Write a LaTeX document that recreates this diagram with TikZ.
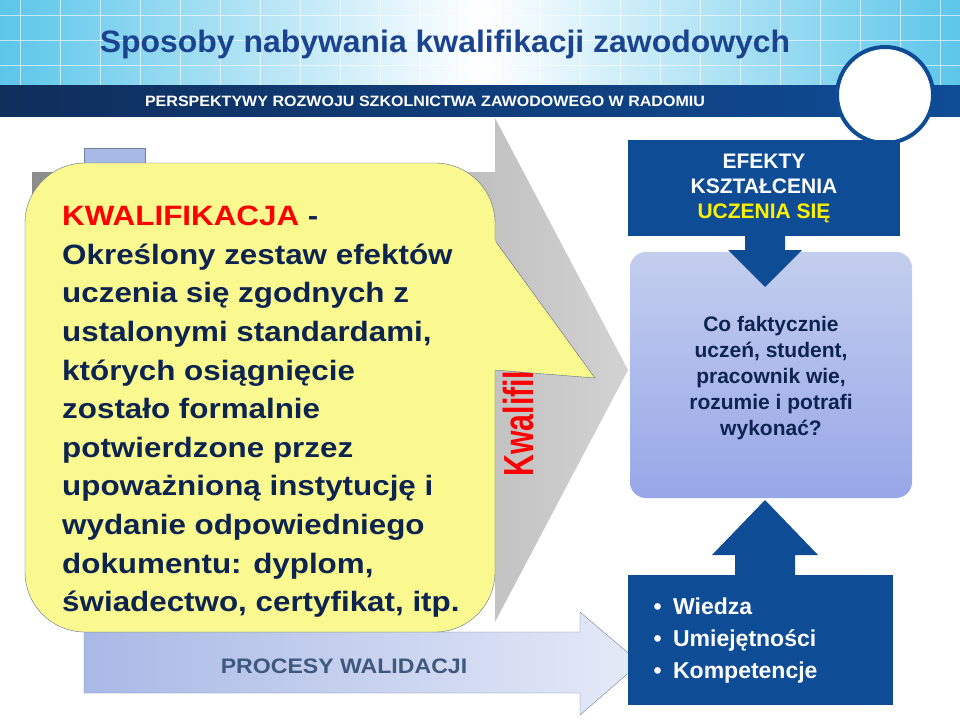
\documentclass[tikz,border=0pt]{standalone}
\usepackage{fontspec}
\setmainfont{Liberation Sans}
\usetikzlibrary{shapes.geometric}
\definecolor{navy}{HTML}{0F2E5C}
\definecolor{dblue}{HTML}{0F4C96}
\definecolor{ttl}{HTML}{1A4490}
\definecolor{sky}{HTML}{5CC6EA}
\definecolor{lblue}{HTML}{A9B9E6}
\definecolor{ylw}{HTML}{FAF98F}
\definecolor{txt}{HTML}{0D2450}
\tikzset{
  boxd/.style={fill=dblue, draw=none},
  ctext/.style={text=white, font=\bfseries\fontsize{21}{25}\selectfont, align=center},
}
\begin{document}
\begin{tikzpicture}[x=1pt,y=-1pt]
\useasboundingbox (0,0) rectangle (960,720);
\fill[white] (0,0) rectangle (960,720);
% header
\shade[left color=sky, right color=sky, middle color=white] (0,0) rectangle (960,85);
\foreach \x in {20,60,...,940} \draw[white,opacity=0.6] (\x,0) -- (\x,85);
\foreach \y in {15,40,65} \draw[white,opacity=0.6] (0,\y) -- (960,\y);
\shade[left color=navy, right color=dblue] (0,85) rectangle (960,116);
\node[font=\bfseries\fontsize{31}{35}\selectfont, text=ttl, xscale=1.03] (title) at (445,44) {Sposoby nabywania kwalifikacji zawodowych};
\node[font=\bfseries\fontsize{15}{17}\selectfont, text=white, xscale=1.07] (sub) at (425,101) {PERSPEKTYWY ROZWOJU SZKOLNICTWA ZAWODOWEGO W RADOMIU};
\draw[dblue, line width=4pt, fill=white] (885,95) circle (48);
% light blue left strip and bottom arrow
\fill[lblue, draw=navy!60, thin] (84,148) rectangle (145,400);
\shade[left color=lblue, right color=lblue!30, draw=navy!60] (84,632) -- (580,632) -- (580,612) -- (640,663) -- (580,715) -- (580,693) -- (84,693) -- cycle;
\node[font=\bfseries\fontsize{21}{22}\selectfont, text=navy!80, xscale=1.1] (proc) at (344,666) {PROCESY WALIDACJI};
% gray chevron
\shade[left color=gray!90, right color=gray!35] (32,172) -- (495,172) -- (495,118) -- (628,370) -- (495,622) -- (495,570) -- (32,570) -- cycle;
\node[rotate=90, font=\bfseries\fontsize{42}{44}\selectfont, text=red, xscale=0.72, inner sep=0pt] (kw) at (523,390) {Kwalifikacje};
% callout
\draw[fill=ylw, draw=navy!70, rounded corners=60pt] (25,163) rectangle (495,632);
\fill[ylw] (493,238) -- (595,378) -- (493,370) -- cycle;
\draw[navy!70] (496,242) -- (595,378) -- (495,370);
\node[anchor=north west, align=left, text=txt, font=\bfseries\fontsize{28}{38.6}\selectfont, xscale=1.12, inner sep=0pt] (def) at (62,206)
{\textcolor{red}{KWALIFIKACJA} -\\ Określony zestaw efektów\\ uczenia się zgodnych z\\ ustalonymi standardami,\\ których osiągnięcie\\ zostało formalnie\\ potwierdzone przez\\ upoważnioną instytucję i\\ wydanie odpowiedniego\\ dokumentu: dyplom,\\ świadectwo, certyfikat, itp.};
% right column
\fill[boxd] (628,140) rectangle (900,236);
\node[ctext] (efk) at (764,188) {EFEKTY\\ KSZTAŁCENIA\\ \textcolor{yellow}{UCZENIA SIĘ}};
\shade[top color=lblue!70!white, bottom color=lblue!90!blue, rounded corners=16pt] (630,252) rectangle (912,498);
\fill[dblue] (745,236) -- (785,236) -- (785,250) -- (802,250) -- (765,287) -- (728,250) -- (745,250) -- cycle;
\node[text=txt, font=\bfseries\fontsize{21}{26}\selectfont, align=center] (q) at (771,378) {Co faktycznie\\ uczeń, student,\\ pracownik wie,\\ rozumie i potrafi\\ wykonać?};
\fill[dblue] (765,500) -- (818,555) -- (795,555) -- (795,580) -- (735,580) -- (735,555) -- (712,555) -- cycle;
\fill[boxd] (628,575) rectangle (893,705);
\node[anchor=west, align=left, text=white, font=\bfseries\fontsize{23}{32}\selectfont] (wuk) at (650,641) {•\enspace Wiedza\\ •\enspace Umiejętności\\ •\enspace Kompetencje};
\end{tikzpicture}
\end{document}
